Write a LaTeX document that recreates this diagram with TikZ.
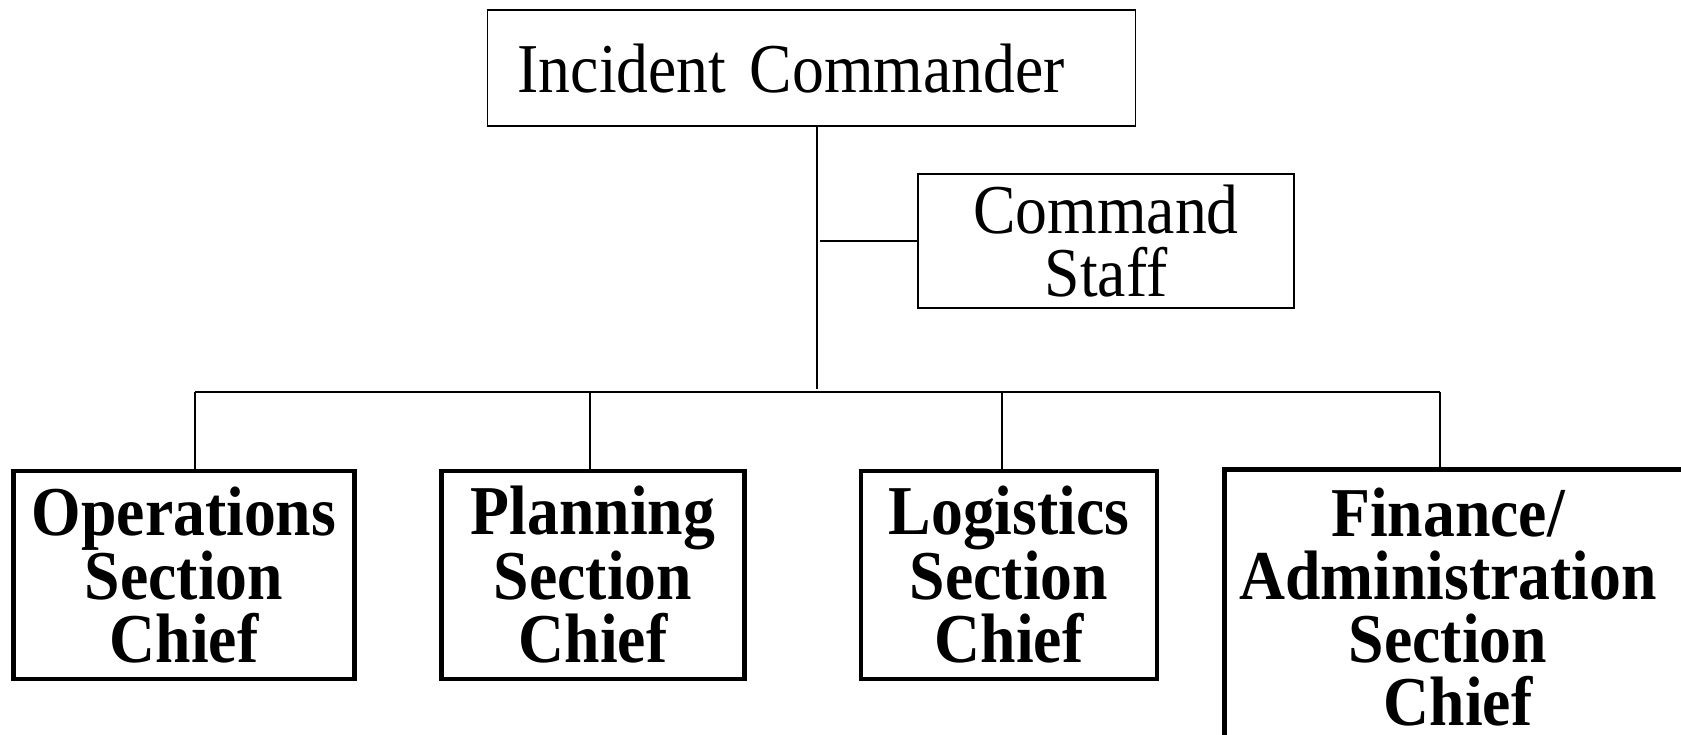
\documentclass[tikz,border=0pt]{standalone}
\usepackage{fontspec}
\setmainfont{Liberation Serif}[FakeStretch=0.91]
\begin{document}
\begin{tikzpicture}[x=1pt,y=1pt,
  thinbox/.style={draw, line width=1.3pt, inner sep=0pt},
  sectbox/.style={draw, line width=4.2pt, inner sep=0pt, align=center,
    font=\fontsize{70}{63}\selectfont\bfseries},
  link/.style={line width=1.1pt},
  plain/.style={font=\fontsize{70}{63}\selectfont}]
\useasboundingbox (0,0) rectangle (1681,-735);

% top of the chart
\node[thinbox, plain, anchor=north west, minimum width=648, minimum height=116,
  text width=588, inner xsep=30pt, align=left] (ic) at (487,-9.5) {Incident Commander};
\node[thinbox, plain, minimum width=376, minimum height=134, align=center]
  (cs) at (1106,-241) {Command\\Staff};

% section chiefs
\node[sectbox, minimum width=341, minimum height=208] (ops) at (184,-575)
  {Operations\\Section\\Chief};
\node[sectbox, minimum width=303, minimum height=208] (plan) at (593,-575)
  {Planning\\Section\\Chief};
\node[sectbox, minimum width=296, minimum height=208] (log) at (1009,-575)
  {Logistics\\Section\\Chief};
\node[sectbox, line width=5pt, anchor=north west, minimum width=520, minimum height=270]
  (finbox) at (1222,-467) {};
\node[font=\fontsize{70}{63}\selectfont\bfseries, align=center, inner sep=0pt]
  (fin) at (1448,-607) {Finance/\\Administration\\Section\\\hspace*{20pt}Chief};

% connectors
\coordinate (trunk) at (817,-389);
\coordinate (dops) at (195,-392);
\coordinate (dplan) at (590,-392);
\coordinate (dlog) at (1002,-392);
\coordinate (dfin) at (1440,-392);
\draw[link] (trunk |- ic.south) -- (trunk);
\draw[link] ([xshift=3pt]trunk |- cs.west) -- (cs.west);
\draw[link] (dops) -- (dfin);
\draw[link] (dops) -- (dops |- ops.north);
\draw[link] (dplan) -- (dplan |- plan.north);
\draw[link] (dlog) -- (dlog |- log.north);
\draw[link] (dfin) -- (dfin |- finbox.north);
\end{tikzpicture}
\end{document}
